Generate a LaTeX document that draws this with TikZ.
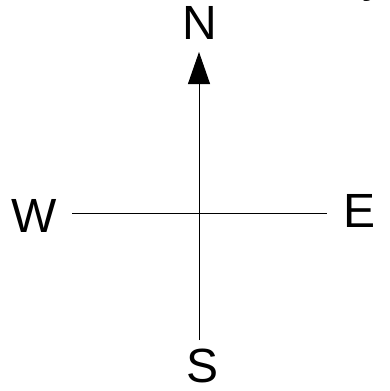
\documentclass[tikz,border=0pt]{standalone}
\usepackage{fontspec}
\setmainfont{Liberation Sans}
\usetikzlibrary{arrows.meta}
\begin{document}
\begin{tikzpicture}[x=1pt,y=-1pt,
  dirlabel/.style={inner sep=0pt,anchor=base,font=\fontsize{48}{48}\selectfont},
  axis/.style={line width=1pt,black}]
\useasboundingbox (0,0) rectangle (390,391);
\clip (0,0) rectangle (390,391);
\node[dirlabel] (n) at (199.5,39) {N};
\node[dirlabel] (w) at (34,232) {W};
\node[dirlabel] (e) at (360,227) {E};
\node[dirlabel] (s) at (203,382) {S};
\node[dirlabel] (y) at (374,-9) {y};
\coordinate (wend) at (72,213);
\coordinate (eend) at (327,213);
\coordinate (send) at (199,340);
\coordinate (ntip) at (199,52);
\draw[axis] (wend) -- (eend);
\draw[axis,-{Triangle[length=32pt,width=22pt]}] (send) -- (ntip);
\end{tikzpicture}
\end{document}
